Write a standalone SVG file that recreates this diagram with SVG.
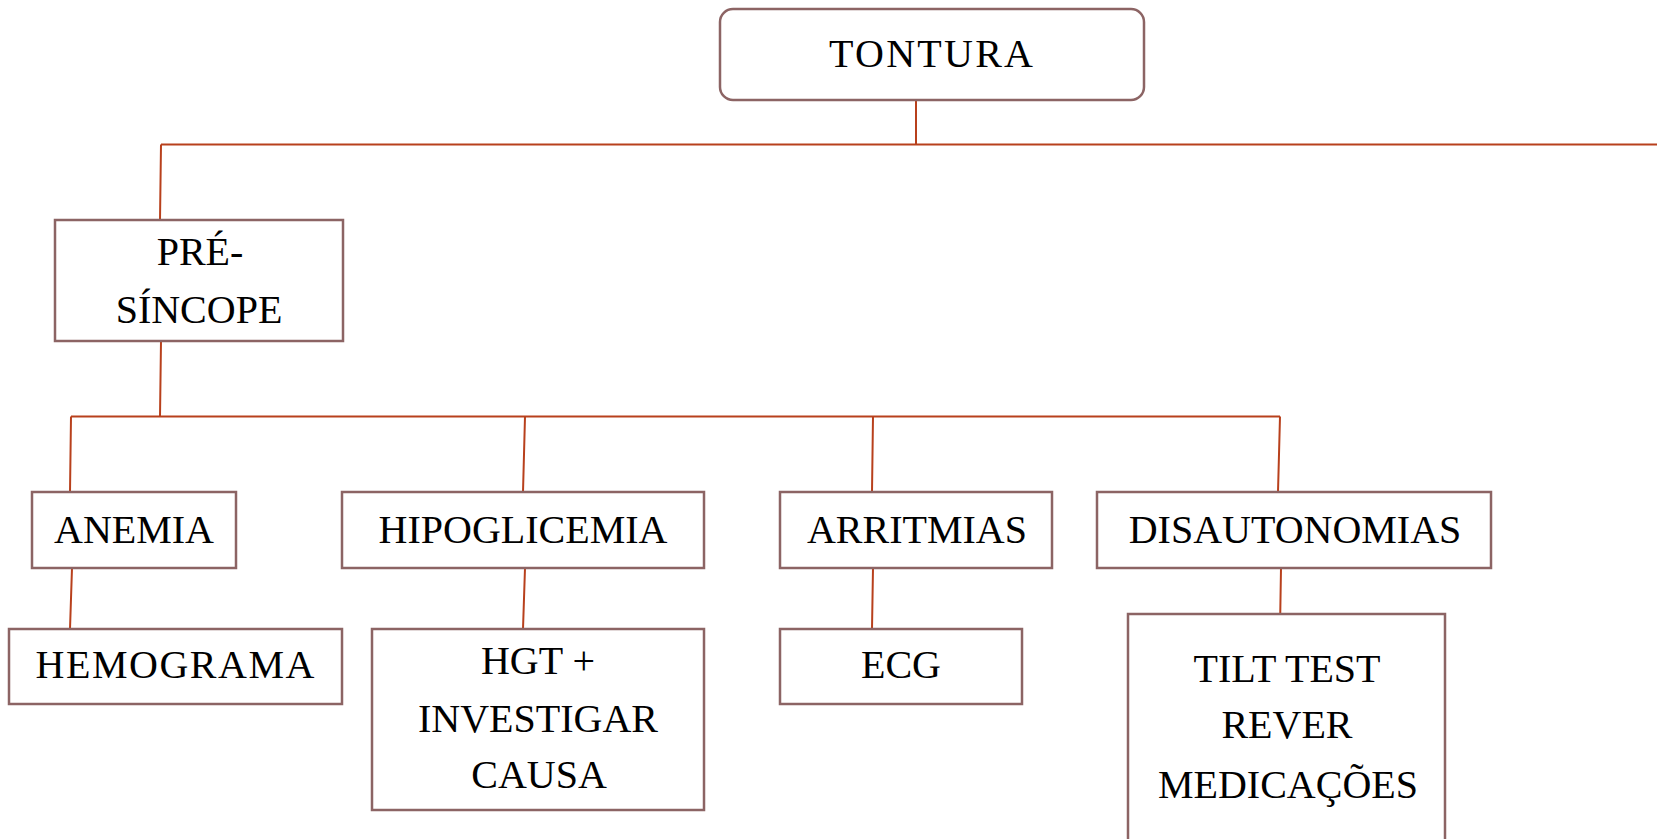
<svg xmlns="http://www.w3.org/2000/svg" width="1665" height="839" viewBox="0 0 1665 839">
<style>
.box{fill:#ffffff;stroke:#8c6464;stroke-width:2.5}
.lnk{fill:none;stroke:#b8401c;stroke-width:2}
text{font-family:"Liberation Serif","Times New Roman",serif;font-size:40px;fill:#000000;text-anchor:middle}
</style>
<rect width="1665" height="839" fill="#ffffff"/>
<g id="connectors">
<path class="lnk" d="M916,100 V144.5 M161,144.5 H1657 M161,144.5 L160,220"/>
<path class="lnk" d="M161,341 L160,416.5 M71,416.5 H1280"/>
<path class="lnk" d="M71,416.5 L70,492 M525,416.5 L523,492 M873,416.5 L872,492 M1280,416.5 L1278,492"/>
<path class="lnk" d="M72,568 L70,629 M525,568 L523,629 M873,568 L872,629 M1281,568 L1280,629"/>
</g>
<g id="tontura">
<rect class="box" x="720" y="9" width="424" height="91" rx="13"/>
<text x="931" y="67" textLength="204" lengthAdjust="spacing">TONTURA</text>
</g>
<g id="pre-sincope">
<rect class="box" x="55" y="220" width="288" height="121"/>
<text x="200" y="265">PRÉ-</text>
<text x="199" y="323">SÍNCOPE</text>
</g>
<g id="anemia">
<rect class="box" x="32" y="492" width="204" height="76"/>
<text x="134" y="543">ANEMIA</text>
</g>
<g id="hipoglicemia">
<rect class="box" x="342" y="492" width="362" height="76"/>
<text x="523" y="543">HIPOGLICEMIA</text>
</g>
<g id="arritmias">
<rect class="box" x="780" y="492" width="272" height="76"/>
<text x="917" y="543">ARRITMIAS</text>
</g>
<g id="disautonomias">
<rect class="box" x="1097" y="492" width="394" height="76"/>
<text x="1295" y="543">DISAUTONOMIAS</text>
</g>
<g id="hemograma">
<rect class="box" x="9" y="629" width="333" height="75"/>
<text x="175" y="678" textLength="279" lengthAdjust="spacing">HEMOGRAMA</text>
</g>
<g id="hgt">
<rect class="box" x="372" y="629" width="332" height="181"/>
<text x="538" y="674">HGT +</text>
<text x="538" y="732">INVESTIGAR</text>
<text x="539" y="788">CAUSA</text>
</g>
<g id="ecg">
<rect class="box" x="780" y="629" width="242" height="75"/>
<text x="901" y="678">ECG</text>
</g>
<g id="tilt">
<path class="box" d="M1128,850 V614 H1445 V850"/>
<text x="1287" y="682">TILT TEST</text>
<text x="1287" y="738">REVER</text>
<text x="1288" y="798">MEDICAÇÕES</text>
</g>
</svg>
